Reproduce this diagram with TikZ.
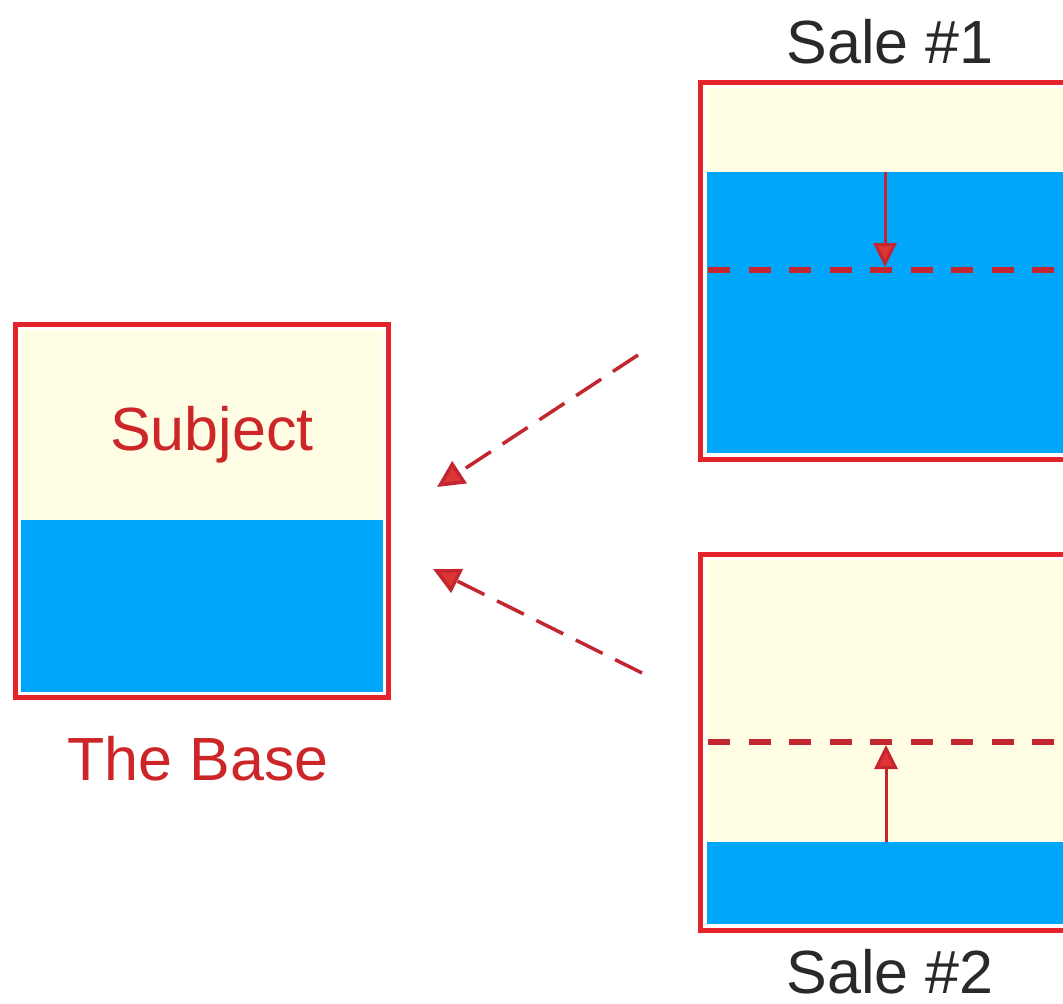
\documentclass[tikz,border=0pt]{standalone}
\usepackage{fontspec}
\setmainfont{Liberation Sans}
\usetikzlibrary{arrows.meta}

\definecolor{framered}{RGB}{228,36,42}
\definecolor{dashred}{RGB}{196,38,48}
\definecolor{tipred}{RGB}{222,52,52}
\definecolor{labelred}{RGB}{204,38,40}
\definecolor{labelgray}{RGB}{40,42,42}
\definecolor{cream}{RGB}{255,253,228}
\definecolor{water}{RGB}{0,166,250}

\tikzset{
  frame/.style={draw=framered, line width=5pt},
  creamfill/.style={fill=cream},
  bluefill/.style={fill=water},
  levelline/.style={draw=dashred, line width=6.5pt, dash pattern=on 22pt off 18.5pt},
  moveline/.style={draw=dashred, line width=3pt,
    -{Triangle[length=24pt,width=23pt,fill=tipred]}},
  flowline/.style={draw=dashred, line width=3.5pt, dash pattern=on 30pt off 14pt,
    -{Triangle[length=27pt,width=26pt,fill=tipred]}},
  lbl/.style={inner sep=0pt, anchor=base, font=\fontsize{61}{70}\selectfont},
}

\begin{document}
\begin{tikzpicture}[x=1pt,y=-1pt]
\useasboundingbox (0,0) rectangle (1063,1004);
\clip (0,0) rectangle (1063,1004);

% ---- The Base ----
\fill[creamfill] (21,330) rectangle (383,520);
\fill[bluefill]  (21,520) rectangle (383,692);
\draw[frame] (15.5,324.5) rectangle (388.5,697.5);
\node[lbl, text=labelred] (subject) at (212,450) {Subject};
\node[lbl, text=labelred] (baselbl) at (198,780) {The Base};

% ---- Sale #1 ----
\fill[creamfill] (707,88) rectangle (1100,172);
\fill[bluefill]  (707,172) rectangle (1100,453);
\draw[frame] (700.5,82.5) rectangle (1120,459.5);
\draw[levelline] (708,270) -- (1100,270);
\coordinate (s1top) at (885,172);
\coordinate (s1lvl) at (885,267);
\draw[moveline] (s1top) -- (s1lvl);
\node[lbl, text=labelgray] (sale1) at (890,63) {Sale \#1};

% ---- Sale #2 ----
\fill[creamfill] (707,560) rectangle (1100,842);
\fill[bluefill]  (707,842) rectangle (1100,924);
\draw[frame] (700.5,554.5) rectangle (1120,930.5);
\draw[levelline] (708,742) -- (1100,742);
\coordinate (s2top) at (886,842);
\coordinate (s2lvl) at (886,745);
\draw[moveline] (s2top) -- (s2lvl);
\node[lbl, text=labelgray] (sale2) at (890,993) {Sale \#2};

% ---- adjustments flowing to the base ----
\coordinate (f1s) at (638,355);
\coordinate (f1e) at (437,487);
\coordinate (f2s) at (642,673);
\coordinate (f2e) at (433,569);
\draw[flowline] (f1s) -- (f1e);
\draw[flowline] (f2s) -- (f2e);
\end{tikzpicture}
\end{document}
